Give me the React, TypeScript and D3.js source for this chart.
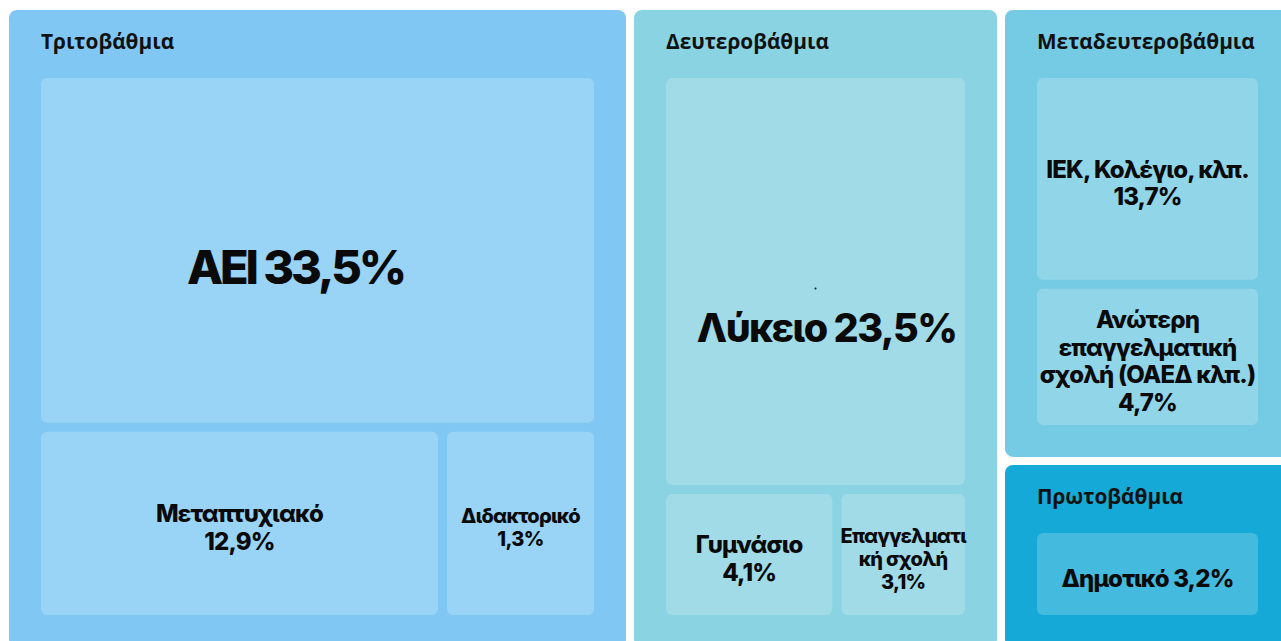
import React, { useMemo } from "react";
import * as d3 from "d3";

// education level groups
const groupNames = ["Τριτοβάθμια", "Δευτεροβάθμια", "Μεταδευτεροβάθμια", "Πρωτοβάθμια"];
const groupFills = ["#80C8F3", "#89D3E2", "#75CBE3", "#14A9D6"];

// leaves
const categories = [
  "ΑΕΙ",
  "Μεταπτυχιακό",
  "Διδακτορικό",
  "Λύκειο",
  "Γυμνάσιο",
  "Επαγγελματική σχολή",
  "ΙΕΚ, Κολέγιο, κλπ.",
  "Ανώτερη επαγγελματική σχολή (ΟΑΕΔ κλπ.)",
  "Δημοτικό",
];
const categoryGroup = [0, 0, 0, 1, 1, 1, 2, 2, 3];
const shares = [33.5, 12.9, 1.3, 23.5, 4.1, 3.1, 13.7, 4.7, 3.2];
// tile sizes as drawn (not equal to the printed shares)
const tileWeights = [31.42, 12.33, 4.74, 21.93, 3.9, 2.95, 9.49, 6.54, 6.7];

const W = 1281;
const H = 641;
const margin = { left: 9, top: 10 };
const FONT = "Inter, 'Noto Sans', sans-serif";
const TRACK = -0.035; // letter spacing, em
const WEIGHT = 800;

// label styles for the two big tiles
const bigLabel: Record<string, { size: number; track: number; dx: number; dy: number; dot?: boolean }> = {
  "ΑΕΙ": { size: 47, track: -0.065, dx: -22, dy: 0.36 },
  "Λύκειο": { size: 39.5, track: -0.04, dx: 11, dy: 1.17, dot: true },
};

const fmt = (v: number) => v.toFixed(1).replace(".", ",") + "%";

let ctx: CanvasRenderingContext2D | null = null;
function textWidth(t: string, size: number) {
  if (!ctx) ctx = document.createElement("canvas").getContext("2d");
  ctx!.font = `${WEIGHT} ${size}px ${FONT}`;
  return ctx!.measureText(t).width + TRACK * size * t.length;
}

function wrap(t: string, size: number, maxW: number, breakW: number) {
  const lines: string[] = [];
  let cur = "";
  for (const word of t.split(" ")) {
    const test = cur ? cur + " " + word : word;
    if (textWidth(test, size) <= maxW) {
      cur = test;
      continue;
    }
    if (cur) lines.push(cur);
    cur = word;
    // break over-long words by characters
    while (textWidth(cur, size) > breakW && cur.length > 1) {
      let k = cur.length - 1;
      while (k > 1 && textWidth(cur.slice(0, k), size) > breakW) k--;
      lines.push(cur.slice(0, k));
      cur = cur.slice(k);
    }
  }
  if (cur) lines.push(cur);
  return lines;
}

function layoutLabel(name: string, share: number, w: number, h: number) {
  const value = fmt(share);
  const big = bigLabel[name];
  if (big) return { size: big.size, track: big.track, lines: [name + " " + value] };
  const size = w < 150 ? 20 : 24;
  if (h < 100 && textWidth(name + " " + value, size) <= w - 10) {
    return { size, track: TRACK, lines: [name + " " + value] };
  }
  return { size, track: TRACK, lines: [...wrap(name, size, w + 2, w + 4), value] };
}

export default function App() {
  const { groups, leaves } = useMemo(() => {
    const data = {
      name: "root",
      children: groupNames.map((g, gi) => ({
        name: g,
        gi,
        children: categories
          .map((c, i) => ({ name: c, i }))
          .filter((d) => categoryGroup[d.i] === gi),
      })),
    };
    const root = d3
      .hierarchy<any>(data)
      .sum((d) => (d.children ? 0 : tileWeights[d.i]));

    const tile = (node: any, x0: number, y0: number, x1: number, y1: number) => {
      if (node.depth === 0) {
        d3.treemapSquarify.ratio(1)(node, x0, y0, x1, y1);
        return;
      }
      // first child across the top, the rest side by side below
      const [first, ...rest] = node.children;
      const yMid = rest.length ? y0 + ((y1 - y0) * first.value) / node.value : y1;
      first.x0 = x0;
      first.x1 = x1;
      first.y0 = y0;
      first.y1 = yMid;
      if (rest.length) {
        d3.treemapDice({ children: rest, value: node.value - first.value } as any, x0, yMid, x1, y1);
      }
    };

    d3
      .treemap<any>()
      .size([1281, 637])
      .tile(tile)
      .paddingInner((d) => (d.depth === 0 ? 8 : 9))
      .paddingTop((d) => (d.depth === 1 ? 68 : 0))
      .paddingRight((d) => (d.depth === 1 ? 32 : 0))
      .paddingBottom((d) => (d.depth === 1 ? 32 : 0))
      .paddingLeft((d) => (d.depth === 1 ? 32 : 0))(root);

    return { groups: root.children as any[], leaves: root.leaves() as any[] };
  }, []);

  return (
    <>
      <style>{`body{margin:0;overflow:hidden;background:#fff}`}</style>
      <svg width={W} height={H} style={{ display: "block" }}>
        <g transform={`translate(${margin.left},${margin.top})`}>
          {groups.map((g) => (
            <g key={g.data.name}>
              <rect
                x={g.x0}
                y={g.y0}
                width={g.x1 - g.x0}
                height={g.y1 - g.y0}
                rx={8}
                fill={groupFills[g.data.gi]}
              />
              <text
                x={g.x0 + 32}
                y={g.y0 + 39}
                fontFamily="'Open Sans', sans-serif"
                fontWeight={700}
                fontSize={20.8}
                fill="#111"
              >
                {g.data.name}
              </text>
            </g>
          ))}
          {leaves.map((d) => {
            const w = d.x1 - d.x0;
            const h = d.y1 - d.y0;
            const big = bigLabel[d.data.name];
            const cx = (d.x0 + d.x1) / 2 + (big ? big.dx : 0);
            const cy = (d.y0 + d.y1) / 2;
            const { size, track, lines } = layoutLabel(d.data.name, shares[d.data.i], w, h);
            const lh = size * 1.15;
            const baseY = big
              ? cy + size * 0.36 + big.dy * size
              : cy - ((lines.length - 1) * lh) / 2 + size * 0.36 + 4;
            return (
              <g key={d.data.name}>
                <rect x={d.x0} y={d.y0} width={w} height={h} rx={6} fill="#fff" fillOpacity={0.2} />
                {big?.dot && <circle cx={(d.x0 + d.x1) / 2} cy={cy + 7} r={1} fill="#111" />}
                <text
                  textAnchor="middle"
                  fontFamily={FONT}
                  fontWeight={WEIGHT}
                  fontSize={size}
                  letterSpacing={`${track}em`}
                  fill="#0a0a0a"
                >
                  {lines.map((l, k) => (
                    <tspan key={k} x={cx} y={baseY + k * lh}>
                      {l}
                    </tspan>
                  ))}
                </text>
              </g>
            );
          })}
        </g>
      </svg>
    </>
  );
}
